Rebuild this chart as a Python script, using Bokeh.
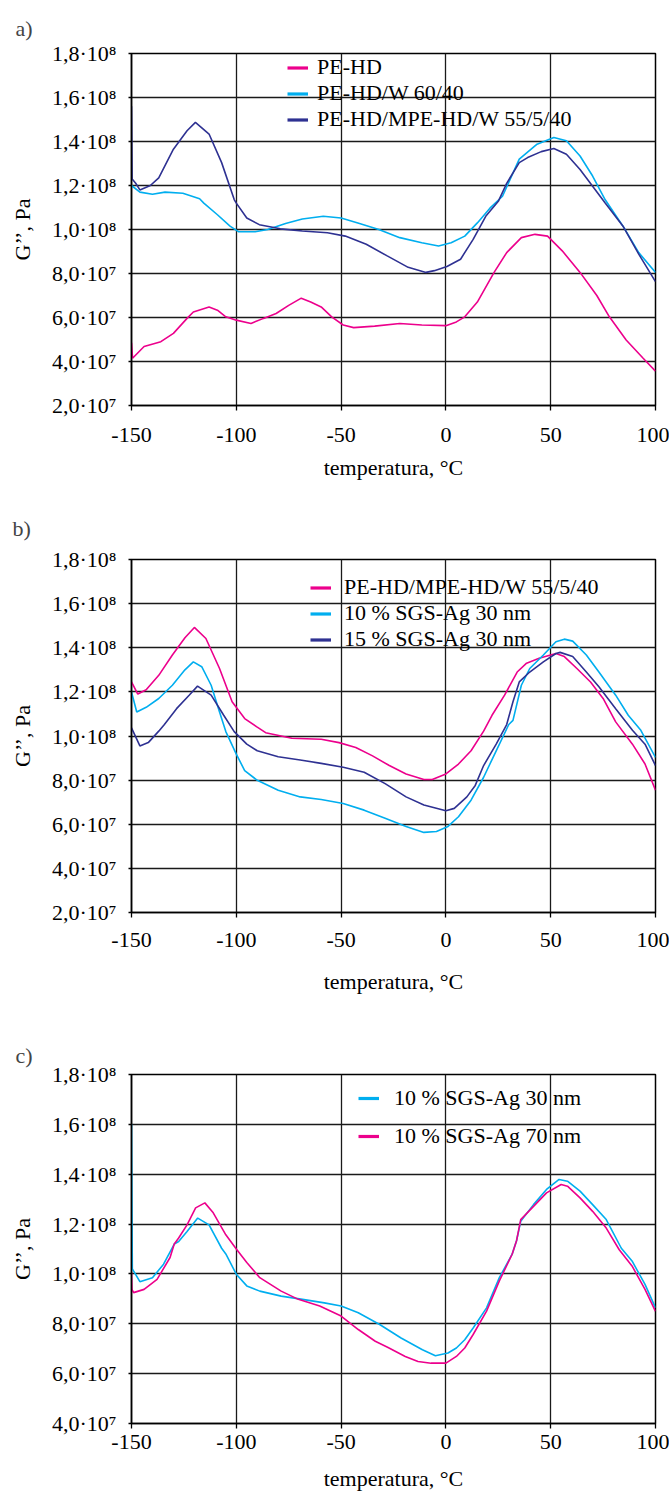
from bokeh.plotting import figure
from bokeh.layouts import column
from bokeh.models import (Range1d, FixedTicker, CustomJSTickFormatter, Legend,
                          LegendItem)
from bokeh.embed import file_html
from bokeh.resources import INLINE

FONT = "Liberation Serif"
MAGENTA = "#EC008C"
CYAN = "#00AEEF"
NAVY = "#2E3192"

# ---- temperature axis ticks (°C) and loss-modulus ticks (Pa) ----
x_ticks = [-150, -100, -50, 0, 50, 100]
y_ticks_ab = [2e7, 4e7, 6e7, 8e7, 1.0e8, 1.2e8, 1.4e8, 1.6e8, 1.8e8]
y_ticks_c = [4e7, 6e7, 8e7, 1.0e8, 1.2e8, 1.4e8, 1.6e8, 1.8e8]

# ---- panel a) : G'' in units of 1e7 Pa ----
a_pehd_t = [-150, -149.5, -144, -136, -130, -123.5, -120.5, -113, -109, -105,
            -100, -93, -87, -81, -75, -69, -64.5, -59.5, -54.5, -49,
            -44, -34, -22, -11.5, 0, 5, 9, 15, 23, 29,
            36, 42.5, 48.5, 55.5, 64, 72, 78, 86, 94, 100]
a_pehd_g = [4.85, 4.15, 4.68, 4.9, 5.28, 5.96, 6.25, 6.48, 6.33, 6.03,
            5.88, 5.73, 5.96, 6.18, 6.55, 6.88, 6.7, 6.48, 6.03, 5.66,
            5.54, 5.61, 5.73, 5.66, 5.63, 5.8, 6.03, 6.7, 8.05, 8.95,
            9.63, 9.78, 9.7, 9.03, 8.05, 7.0, 6.03, 4.98, 4.16, 3.56]

a_w_t = [-150, -146, -140, -134, -125.5, -117.5, -115.5, -109, -103, -99,
         -91, -85, -76.5, -68.5, -58.5, -50, -42, -32, -22, -11.5,
         -3.5, 2.5, 9, 15, 21, 27, 35, 43.5, 51.5, 57.5,
         64, 70, 76, 84.5, 92, 100]
a_w_g = [12.0, 11.7, 11.6, 11.7, 11.65, 11.4, 11.2, 10.67, 10.15, 9.9,
         9.9, 10.0, 10.27, 10.48, 10.6, 10.52, 10.3, 10.0, 9.63, 9.4,
         9.25, 9.4, 9.7, 10.3, 10.97, 11.51, 13.2, 13.88, 14.18, 14.03,
         13.34, 12.43, 11.35, 10.15, 8.95, 8.05]

a_mpe_t = [-150, -149.7, -148, -146, -141, -137, -130, -123.5, -119.5, -113,
           -107, -101, -100, -95, -89, -79, -68.5, -56.5, -48, -38,
           -28, -18, -9.5, -5.5, 0.5, 7, 13, 19, 25, 29,
           35, 39, 45.5, 51.5, 57.5, 64, 70, 76, 84.5, 92, 100]
a_mpe_g = [15.6, 12.3, 12.1, 11.8, 12.0, 12.35, 13.65, 14.49, 14.87, 14.34,
           13.04, 11.36, 11.2, 10.52, 10.22, 10.03, 9.93, 9.85, 9.7, 9.33,
           8.8, 8.28, 8.05, 8.13, 8.32, 8.65, 9.55, 10.6, 11.28, 12.1,
           13.04, 13.27, 13.54, 13.68, 13.42, 12.73, 11.97, 11.2, 10.15, 8.88, 7.63]

# ---- panel b) ----
b_mpe_t = [-150, -147, -143, -137, -130.5, -124.5, -120, -114.5, -108, -102,
           -96, -90, -86, -73.5, -59.5, -51, -43, -35, -27, -19,
           -10.5, -6.5, 0, 6, 12, 18, 22, 28, 34, 38.5,
           44.5, 52.5, 56.5, 62.5, 69, 75, 81, 89, 95, 100]
b_mpe_g = [12.45, 11.9, 12.1, 12.75, 13.67, 14.45, 14.92, 14.42, 13.06, 11.55,
           10.79, 10.4, 10.15, 9.9, 9.85, 9.7, 9.48, 9.1, 8.66, 8.28,
           8.03, 8.03, 8.28, 8.73, 9.33, 10.22, 10.94, 11.85, 12.9, 13.3,
           13.52, 13.74, 13.6, 13.06, 12.45, 11.7, 10.64, 9.63, 8.73, 7.54]

b_ag10_t = [-150, -147.5, -143, -137, -130.5, -124.5, -120.5, -116.5, -112, -108,
            -105, -100, -96, -90, -80, -69.5, -59.5, -49, -39, -29,
            -19, -10.5, -4.5, 1, 6, 12, 18, 24, 30, 32,
            36, 40, 46.5, 52.5, 56.5, 60.5, 67, 73, 81, 87,
            93, 100]
b_ag10_g = [12.0, 11.09, 11.3, 11.7, 12.3, 13.0, 13.36, 13.14, 12.3, 11.09,
            10.2, 9.18, 8.43, 7.99, 7.54, 7.24, 7.12, 6.94, 6.64, 6.27,
            5.9, 5.63, 5.67, 5.9, 6.34, 7.09, 8.13, 9.33, 10.52, 10.71,
            12.3, 13.06, 13.67, 14.27, 14.39, 14.3, 13.67, 12.9, 11.85, 10.94,
            10.26, 9.03]

b_ag15_t = [-150, -146, -142, -137, -134.5, -128.5, -122.5, -118.5, -112, -106,
            -101, -95, -90, -80, -69.5, -59.5, -49, -39, -29, -19,
            -10.5, 0, 4, 10, 14, 18, 24, 29, 32, 35,
            40, 46.5, 52.5, 54.5, 60.5, 67, 73, 81, 89, 95,
            100]
b_ag15_g = [10.37, 9.55, 9.7, 10.22, 10.5, 11.24, 11.85, 12.26, 11.85, 10.94,
            10.2, 9.63, 9.33, 9.06, 8.91, 8.76, 8.58, 8.36, 7.84, 7.24,
            6.87, 6.61, 6.72, 7.24, 7.76, 8.66, 9.63, 10.52, 11.55, 12.45,
            12.9, 13.36, 13.74, 13.79, 13.6, 12.9, 12.23, 11.24, 10.26, 9.63,
            8.66]

# ---- panel c) ----
c_ag30_t = [-150, -149.6, -146, -140, -134.7, -129.6, -127.5, -123.5, -118.4, -113,
            -107, -105, -100, -95, -88.8, -78.6, -68.4, -58, -50, -41.8,
            -31.6, -21.4, -11.2, -5, 1, 5, 9, 13, 19.4, 25.5,
            31.6, 33.7, 35.7, 41.8, 48, 54, 58, 64, 70, 76.5,
            83.7, 88.8, 95, 100]
c_ag30_g = [16.0, 10.2, 9.69, 9.85, 10.39, 11.2, 11.3, 11.7, 12.24, 11.97,
            11.03, 10.8, 9.99, 9.52, 9.31, 9.11, 8.98, 8.84, 8.71, 8.44,
            7.97, 7.43, 6.96, 6.72, 6.83, 7.03, 7.36, 7.83, 8.64, 9.85,
            10.79, 11.33, 12.11, 12.78, 13.39, 13.79, 13.72, 13.32, 12.78, 12.18,
            11.03, 10.52, 9.58, 8.64]

c_ag70_t = [-150, -149.8, -149, -144, -137.8, -131.6, -129.6, -127.5, -123.5, -119.4,
            -115, -111, -105, -100, -95, -88.8, -78.6, -70.4, -60.2, -50,
            -41.8, -33.7, -27.6, -19.4, -13.3, -7.1, 0, 5, 9, 13,
            19.4, 25.5, 31.6, 33.7, 35.7, 41.8, 48, 55, 58, 64,
            70, 76.5, 82.7, 88.8, 95, 100]
c_ag70_g = [10.05, 9.38, 9.25, 9.38, 9.78, 10.66, 11.2, 11.44, 11.97, 12.65,
            12.85, 12.45, 11.57, 11.0, 10.46, 9.85, 9.31, 8.98, 8.71, 8.31,
            7.77, 7.3, 7.05, 6.69, 6.49, 6.42, 6.42, 6.69, 7.03, 7.57,
            8.51, 9.72, 10.79, 11.33, 12.18, 12.71, 13.25, 13.59, 13.52, 13.05,
            12.51, 11.84, 10.97, 10.32, 9.38, 8.5]

E7 = 1e7

y_fmt = CustomJSTickFormatter(code="""
    const e = Math.floor(Math.log10(tick) + 1e-9);
    const m = tick / Math.pow(10, e);
    const sup = {7: "\\u2077", 8: "\\u2078"};
    return m.toFixed(1).replace(".", ",") + "\\u00b710" + sup[e];
""")
x_fmt = CustomJSTickFormatter(code="return tick.toString();")


def panel(letter, y_min, y_ticks, border, frame_h, title_std, x_std, xl_std,
          leg_loc, leg_row, leg_standoff, series):
    left, right, top, bottom = border
    p = figure(frame_width=524, frame_height=frame_h,
               min_border_left=left, min_border_right=right,
               min_border_top=top, min_border_bottom=bottom,
               x_range=Range1d(-150, 100), y_range=Range1d(y_min, 1.8e8),
               output_backend="svg", toolbar_location=None,
               background_fill_color="white", border_fill_color="white")
    p.title.text = letter
    p.title.text_font = FONT
    p.title.text_font_size = "22px"
    p.title.text_font_style = "normal"
    p.title.align = "left"
    p.title.offset = -left + 12
    p.title.standoff = title_std

    p.outline_line_color = "black"
    p.outline_line_width = 1.5
    p.outline_line_alpha = 1

    for g in (p.xgrid, p.ygrid):
        g.grid_line_color = "#1a1a1a"
        g.grid_line_width = 1.3

    p.xaxis.ticker = FixedTicker(ticks=x_ticks)
    p.yaxis.ticker = FixedTicker(ticks=y_ticks)
    p.xaxis.formatter = x_fmt
    p.yaxis.formatter = y_fmt
    p.xaxis.axis_label = "temperatura, °C"
    p.yaxis.axis_label = "G’’, Pa"
    for ax in (p.xaxis, p.yaxis):
        ax.axis_line_color = "black"
        ax.axis_line_width = 1.5
        ax.major_tick_line_color = "black"
        ax.major_tick_line_width = 1.3
        ax.major_tick_in = 0
        ax.minor_tick_line_color = None
        ax.major_label_text_font = FONT
        ax.major_label_text_font_size = "22px"
        ax.major_label_text_color = "black"
        ax.axis_label_text_font = FONT
        ax.axis_label_text_font_size = "22px"
        ax.axis_label_text_font_style = "normal"
        ax.axis_label_text_color = "black"
    p.xaxis.major_tick_out = 5
    p.xaxis.major_label_standoff = x_std
    p.xaxis.axis_label_standoff = xl_std
    p.yaxis.major_tick_out = 3
    p.yaxis.major_label_standoff = 12
    p.yaxis.axis_label_standoff = 14

    items = []
    for label, t, g, color in series:
        ys = [v * E7 for v in g]
        p.line(t, ys, line_color=color, line_width=1.6)
        # thicker, hidden copy that only serves as the legend key
        key = p.line(t, ys, line_color=color, line_width=3.2, visible=False)
        items.append(LegendItem(label=label, renderers=[key]))

    leg = Legend(items=items, location=leg_loc, orientation="vertical",
                 glyph_width=21, glyph_height=leg_row, label_height=leg_row,
                 label_standoff=leg_standoff, spacing=0, padding=0, margin=0,
                 background_fill_alpha=0, border_line_alpha=0,
                 inactive_fill_alpha=0, click_policy="none",
                 label_text_font=FONT, label_text_font_size="22px",
                 label_text_color="black")
    p.add_layout(leg)
    return p


pa = panel("a)", 2e7, y_ticks_ab, (128, 17, 52, 83), 352, 26, 17, 10,
           (156, 273), 25, 9, [
               ("PE-HD", a_pehd_t, a_pehd_g, MAGENTA),
               ("PE-HD/W 60/40", a_w_t, a_w_g, CYAN),
               ("PE-HD/MPE-HD/W 55/5/40", a_mpe_t, a_mpe_g, NAVY),
           ])
pb = panel("b)", 2e7, y_ticks_ab, (131, 14, 71, 99), 353, 37, 15, 19,
           (179, 260), 25, 13, [
               ("PE-HD/MPE-HD/W 55/5/40", b_mpe_t, b_mpe_g, MAGENTA),
               ("10 % SGS-Ag 30 nm", b_ag10_t, b_ag10_g, CYAN),
               ("15 % SGS-Ag 30 nm", b_ag15_t, b_ag15_g, NAVY),
           ])
pc = panel("c)", 4e7, y_ticks_c, (128, 17, 63, 75), 349, 14, 6, 14,
           (227, 268), 38, 15, [
               ("10 % SGS-Ag 30 nm", c_ag30_t, c_ag30_g, CYAN),
               ("10 % SGS-Ag 70 nm", c_ag70_t, c_ag70_g, MAGENTA),
           ])

page = column(pa, pb, pc, spacing=0)
open("out.html", "w").write(file_html(page, INLINE))
